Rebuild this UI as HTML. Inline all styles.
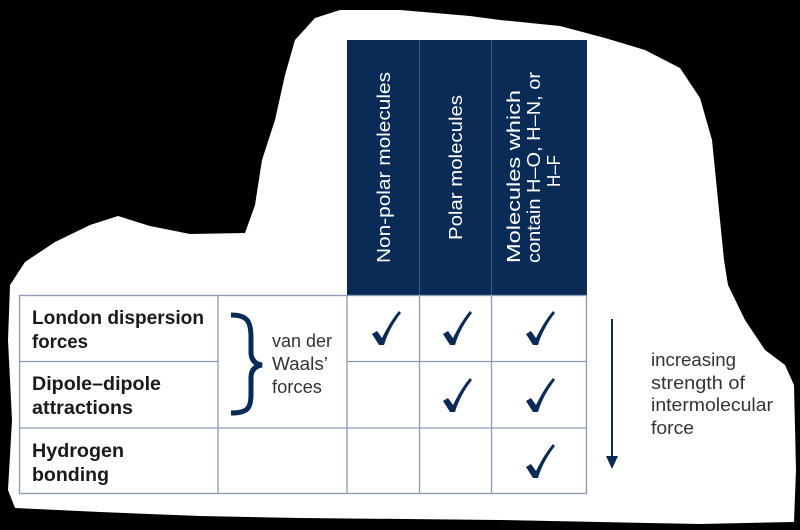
<!DOCTYPE html>
<html><head><style>
html,body{margin:0;padding:0;background:#000;width:800px;height:530px;overflow:hidden}
svg{display:block}
</style></head><body>
<svg width="800" height="530" viewBox="0 0 800 530" xmlns="http://www.w3.org/2000/svg">
<rect width="800" height="530" fill="#000"/>
<path fill="#fff" d="M10,285 L25,262 L55,242 L90,225 L118,216 L150,226 L190,234 L245,233 L255,205 L262,160 L275,120 L285,75 L295,40 L315,18 L340,10 L400,10 L470,16 L500,20 L560,26 L605,38 L645,50 L680,68 L700,98 L712,140 L718,200 L724,260 L728,285 L745,320 L765,350 L785,365 L794,385 L796,470 L794,522 L700,524 L500,520 L300,518 L200,516 L100,512 L15,508 L8,490 L12,420 L8,340 Z"/>
<!-- header -->
<rect x="347" y="40" width="240" height="255" fill="#0b2b57"/>
<line x1="419.5" y1="40" x2="419.5" y2="295" stroke="#3a5a85" stroke-width="1"/>
<line x1="491.5" y1="40" x2="491.5" y2="295" stroke="#3a5a85" stroke-width="1"/>
<g font-family="Liberation Sans, sans-serif" font-size="18" fill="#fff">
<text transform="translate(390,263) rotate(-90)" textLength="191" lengthAdjust="spacingAndGlyphs">Non-polar molecules</text>
<text transform="translate(462,240) rotate(-90)" textLength="145" lengthAdjust="spacingAndGlyphs">Polar molecules</text>
<text transform="translate(520,263) rotate(-90)" textLength="173" lengthAdjust="spacingAndGlyphs">Molecules which</text>
<text transform="translate(540,263) rotate(-90)" textLength="191" lengthAdjust="spacingAndGlyphs">contain H–O, H–N, or</text>
<text transform="translate(560,187) rotate(-90)" textLength="32" lengthAdjust="spacingAndGlyphs">H–F</text>
</g>
<!-- table grid -->
<g stroke="#8a9ab0" stroke-width="1.3" fill="none">
<rect x="19.5" y="295.5" width="567" height="198"/>
<line x1="19.5" y1="361.5" x2="218" y2="361.5"/>
<line x1="347" y1="361.5" x2="587" y2="361.5"/>
<line x1="19.5" y1="428" x2="587" y2="428"/>
<line x1="218" y1="295.5" x2="218" y2="493.5"/>
<line x1="347" y1="295.5" x2="347" y2="493.5"/>
<line x1="419.5" y1="295.5" x2="419.5" y2="493.5"/>
<line x1="491.5" y1="295.5" x2="491.5" y2="493.5"/>
</g>
<g font-family="Liberation Sans, sans-serif" font-size="19" font-weight="bold" fill="#1a1a1a" lengthAdjust="spacingAndGlyphs">
<text x="32" y="324" textLength="172" lengthAdjust="spacingAndGlyphs">London dispersion</text>
<text x="32" y="348" textLength="56" lengthAdjust="spacingAndGlyphs">forces</text>
<text x="32" y="390" textLength="129" lengthAdjust="spacingAndGlyphs">Dipole–dipole</text>
<text x="32" y="414" textLength="101" lengthAdjust="spacingAndGlyphs">attractions</text>
<text x="32" y="457" textLength="92" lengthAdjust="spacingAndGlyphs">Hydrogen</text>
<text x="32" y="481" textLength="77" lengthAdjust="spacingAndGlyphs">bonding</text>
</g>
<!-- brace -->
<path d="M231,315 C248,315 251,322 251,338 L251,352 C251,360 255,364 262,365 C255,366 251,370 251,378 L251,394 C251,408 248,413 231,413" fill="none" stroke="#0b2b57" stroke-width="5"/>
<g font-family="Liberation Sans, sans-serif" font-size="18" fill="#333">
<text x="272" y="347" textLength="60" lengthAdjust="spacingAndGlyphs">van der</text>
<text x="272" y="370" textLength="56" lengthAdjust="spacingAndGlyphs">Waals’</text>
<text x="272" y="393" textLength="50" lengthAdjust="spacingAndGlyphs">forces</text>
<text x="651" y="366" textLength="85" lengthAdjust="spacingAndGlyphs">increasing</text>
<text x="651" y="389" textLength="94" lengthAdjust="spacingAndGlyphs">strength of</text>
<text x="651" y="411" textLength="122" lengthAdjust="spacingAndGlyphs">intermolecular</text>
<text x="651" y="434" textLength="43" lengthAdjust="spacingAndGlyphs">force</text>
</g>
<!-- checks -->
<defs>
<path id="ck" d="M-13,6 L-8,3 L-3,10 C3,-2 8,-10 14,-17 L16,-15 C9,-6 3,4 -1,17 L-6,17 Z" fill="#0b2b57"/>
</defs>
<use href="#ck" x="385" y="328"/>
<use href="#ck" x="456" y="328"/>
<use href="#ck" x="539" y="328"/>
<use href="#ck" x="456" y="395"/>
<use href="#ck" x="539" y="395"/>
<use href="#ck" x="539" y="461"/>
<!-- arrow -->
<line x1="612" y1="319" x2="612" y2="458" stroke="#0b2b57" stroke-width="2"/>
<polygon points="606,456 618,456 612,469" fill="#0b2b57"/>
</svg>
</body></html>
